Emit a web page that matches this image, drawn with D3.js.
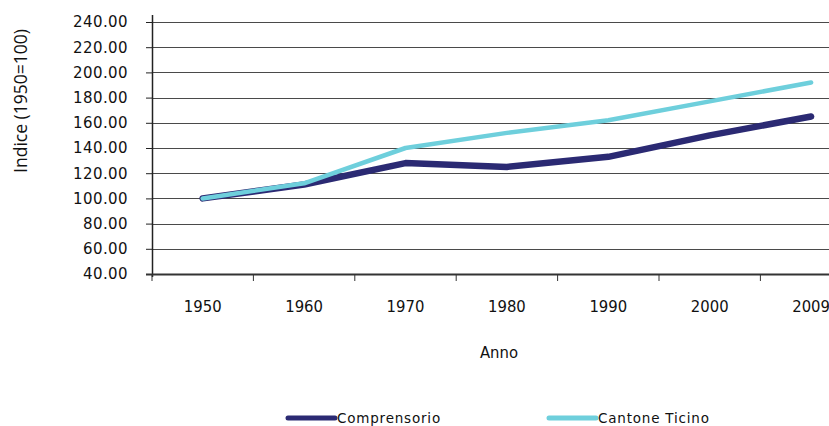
<!DOCTYPE html>
<html>
<head>
<meta charset="utf-8">
<script src="https://cdn.jsdelivr.net/npm/d3@7"></script>
<style>
  html, body { margin: 0; padding: 0; background: #fff; }
  svg { display: block; }
</style>
</head>
<body>
<svg id="chart" width="829" height="426"></svg>
<script>
const years = ["1950", "1960", "1970", "1980", "1990", "2000", "2009"];
const comprensorio = [100, 111, 128, 125, 133, 150, 165];
const cantoneTicino = [100, 112, 140, 152, 162, 177, 192];
const yTicks = [40, 60, 80, 100, 120, 140, 160, 180, 200, 220, 240];
const seriesNames = ["Comprensorio", "Cantone Ticino"];
const seriesColors = ["#2b2a73", "#6ecfdc"];

const svg = d3.select("#chart");
const W = 829, H = 426;
const plotLeft = 152, plotBottom = 274, plotTop = 22;

const x = d3.scaleBand().domain(years).range([plotLeft, plotLeft + 7 * 101.4]);
const y = d3.scaleLinear().domain([40, 240]).range([plotBottom, plotTop]);

// gridlines
svg.append("g").selectAll("line")
  .data(yTicks.filter(d => d !== 40))
  .join("line")
  .attr("x1", plotLeft).attr("x2", W)
  .attr("y1", d => Math.round(y(d)) + 0.5).attr("y2", d => Math.round(y(d)) + 0.5)
  .attr("stroke", "#4a4a4a").attr("stroke-width", 1.2);

// y axis
const yAxis = d3.axisLeft(y).tickValues(yTicks).tickFormat(d3.format(".2f")).tickSize(6).tickPadding(18);
const gy = svg.append("g").attr("transform", `translate(${plotLeft},0)`).call(yAxis);
gy.select(".domain").remove();
gy.selectAll(".tick line").attr("stroke", "#222");
gy.selectAll(".tick text")
  .attr("font-family", "Verdana, 'DejaVu Sans', sans-serif")
  .attr("font-size", 15).attr("fill", "#111").attr("letter-spacing", "0.4px");
svg.append("line").attr("x1", plotLeft + 0.5).attr("x2", plotLeft + 0.5).attr("y1", 15).attr("y2", plotBottom + 3)
  .attr("stroke", "#222").attr("stroke-width", 1.5);

// x axis
const xAxis = d3.axisBottom(x).tickSize(0);
const gx = svg.append("g").attr("transform", `translate(0,${plotBottom})`).call(xAxis);
gx.select(".domain").remove();
gx.selectAll(".tick text")
  .attr("y", 38).attr("dy", null)
  .attr("font-family", "'DejaVu Sans Condensed', 'DejaVu Sans', sans-serif")
  .attr("font-stretch", "condensed")
  .attr("font-size", 16.5).attr("fill", "#111");
svg.append("line").attr("x1", plotLeft - 6).attr("x2", W).attr("y1", plotBottom + 0.5).attr("y2", plotBottom + 0.5)
  .attr("stroke", "#333").attr("stroke-width", 2);
svg.append("g").selectAll("line")
  .data(years)
  .join("line")
  .attr("x1", d => x(d)).attr("x2", d => x(d))
  .attr("y1", plotBottom).attr("y2", plotBottom + 7)
  .attr("stroke", "#333").attr("stroke-width", 1);

// titles
svg.append("text")
  .attr("transform", `translate(27,101) rotate(-90)`)
  .attr("text-anchor", "middle")
  .attr("font-family", "'Open Sans', 'DejaVu Sans', sans-serif")
  .attr("font-size", 17.5).attr("fill", "#111")
  .text("Indice (1950=100)");
svg.append("text")
  .attr("x", 499).attr("y", 358)
  .attr("text-anchor", "middle")
  .attr("font-family", "'DejaVu Sans Condensed', 'DejaVu Sans', sans-serif")
  .attr("font-stretch", "condensed")
  .attr("font-size", 16.5).attr("fill", "#111")
  .text("Anno");

// lines
const line = d3.line().x((d, i) => x(years[i]) + x.bandwidth() / 2).y(d => y(d));
const data = [comprensorio, cantoneTicino];
const widths = [6.5, 4.5];
svg.append("g").selectAll("path")
  .data(data)
  .join("path")
  .attr("d", d => line(d))
  .attr("fill", "none")
  .attr("stroke", (d, i) => seriesColors[i])
  .attr("stroke-width", (d, i) => widths[i])
  .attr("stroke-linecap", "round")
  .attr("stroke-linejoin", "round");

// legend
const legendX = [288, 549];
const lg = svg.append("g").selectAll("g")
  .data(seriesNames)
  .join("g")
  .attr("transform", (d, i) => `translate(${legendX[i]},418)`);
lg.append("line")
  .attr("x1", 0).attr("x2", 47).attr("y1", 0).attr("y2", 0)
  .attr("stroke", (d, i) => seriesColors[i])
  .attr("stroke-width", 5).attr("stroke-linecap", "round");
lg.append("text")
  .attr("x", 49).attr("y", 5)
  .attr("font-family", "Verdana, 'DejaVu Sans', sans-serif")
  .attr("font-size", 13.5).attr("fill", "#111").attr("letter-spacing", "0.8px")
  .text(d => d);
</script>
</body>
</html>
